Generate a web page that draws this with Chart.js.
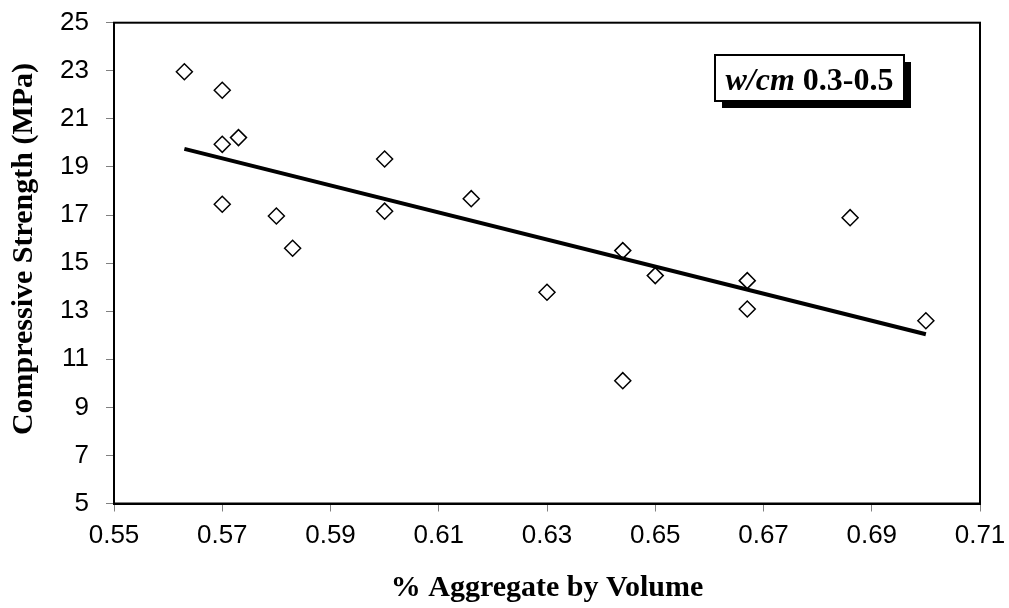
<!DOCTYPE html>
<html>
<head>
<meta charset="utf-8">
<script src="https://cdn.jsdelivr.net/npm/chart.js@4/dist/chart.umd.min.js"></script>
<style>
    html, body { margin: 0; padding: 0; background: #fff; }
    #wrap { width: 1009px; height: 608px; }
</style>
</head>
<body>
<div id="wrap"><canvas id="strengthChart" width="1009" height="608"></canvas></div>
<script>
// aggregate volume fraction vs compressive strength, w/cm 0.3-0.5 mixes
const aggregateVolume = [0.563, 0.570, 0.570, 0.573, 0.570, 0.580, 0.583, 0.600, 0.600,
    0.616, 0.630, 0.644, 0.644, 0.650, 0.667, 0.667, 0.686, 0.700];
const strengthMPa = [22.96, 22.19, 19.94, 20.22, 17.45, 16.96, 15.62, 19.33, 17.16,
    17.68, 13.79, 15.52, 10.11, 14.48, 14.27, 13.09, 16.89, 12.60];

// linear trend line end points
const trendVolume = [0.563, 0.700];
const trendStrength = [19.75, 12.04];

const xTicks = [0.55, 0.57, 0.59, 0.61, 0.63, 0.65, 0.67, 0.69, 0.71];
const yTicks = [5, 7, 9, 11, 13, 15, 17, 19, 21, 23, 25];

const boxLabel = ['w/cm', ' 0.3-0.5'];
const yTitle = 'Compressive Strength (MPa)';

const serif = '"Liberation Serif", "Times New Roman", serif';
const sans = '"Liberation Sans", Arial, sans-serif';

// closes the plot area frame on the top and right
const frameBox = {
    id: 'frameBox',
    afterDatasetsDraw(chart) {
        const { ctx, chartArea: a } = chart;
        ctx.save();
        ctx.strokeStyle = '#000';
        ctx.lineWidth = 2;
        ctx.strokeRect(a.left, a.top, a.right - a.left, a.bottom - a.top);
        ctx.restore();
    }
};

// vertical axis title, sits a little above the plot's middle
const sideTitle = {
    id: 'sideTitle',
    afterDraw(chart) {
        const ctx = chart.ctx;
        ctx.save();
        ctx.translate(24, 249);
        ctx.rotate(-Math.PI / 2);
        ctx.font = 'bold 30px ' + serif;
        ctx.fillStyle = '#000';
        ctx.textAlign = 'center';
        ctx.textBaseline = 'middle';
        ctx.fillText(yTitle, 0, 0);
        ctx.restore();
    }
};

// label box with drop shadow in the upper right
const mixLabel = {
    id: 'mixLabel',
    afterDraw(chart) {
        const ctx = chart.ctx;
        const left = 715, top = 55, w = 189, h = 46;
        ctx.save();
        ctx.fillStyle = '#000';
        ctx.fillRect(left + 7, top + 7, w, h);
        ctx.fillStyle = '#fff';
        ctx.fillRect(left, top, w, h);
        ctx.strokeStyle = '#000';
        ctx.lineWidth = 2;
        ctx.strokeRect(left, top, w, h);

        const italicFont = 'italic bold 32px ' + serif;
        const plainFont = 'bold 32px ' + serif;
        ctx.font = italicFont;
        const w1 = ctx.measureText(boxLabel[0]).width;
        ctx.font = plainFont;
        const w2 = ctx.measureText(boxLabel[1]).width;
        let x = left + (w - w1 - w2) / 2;
        const y = top + 35;
        ctx.fillStyle = '#000';
        ctx.textBaseline = 'alphabetic';
        ctx.font = italicFont;
        ctx.fillText(boxLabel[0], x, y);
        ctx.font = plainFont;
        ctx.fillText(boxLabel[1], x + w1, y);
        ctx.restore();
    }
};

const points = aggregateVolume.map((v, i) => ({ x: v, y: strengthMPa[i] }));
const trend = trendVolume.map((v, i) => ({ x: v, y: trendStrength[i] }));

new Chart(document.getElementById('strengthChart').getContext('2d'), {
    type: 'scatter',
    data: {
        datasets: [{
            type: 'line',
            data: trend,
            borderColor: '#000',
            borderWidth: 4,
            pointRadius: 0,
            fill: false,
            order: 0
        }, {
            data: points,
            pointStyle: 'rectRot',
            pointRadius: 8,
            pointBackgroundColor: '#fff',
            pointBorderColor: '#000',
            pointBorderWidth: 1.5,
            order: 1
        }]
    },
    options: {
        responsive: false,
        animation: false,
        layout: { padding: { top: 22.7, right: 29, left: 0, bottom: 0 } },
        plugins: {
            legend: { display: false },
            tooltip: { enabled: false }
        },
        scales: {
            x: {
                type: 'linear',
                min: 0.55,
                max: 0.71,
                afterBuildTicks: scale => { scale.ticks = xTicks.map(v => ({ value: v })); },
                afterFit: scale => {
                    scale.height = 104.5;
                    scale.paddingLeft = 0;
                    scale.paddingRight = 0;
                },
                border: { color: '#000', width: 2 },
                grid: { drawOnChartArea: false, drawTicks: true, tickLength: 8, color: '#808080' },
                ticks: {
                    color: '#000',
                    padding: 9,
                    maxRotation: 0,
                    font: { family: sans, size: 26 },
                    callback: v => v.toFixed(2)
                },
                title: {
                    display: true,
                    text: '% Aggregate by Volume',
                    color: '#000',
                    padding: { top: 0, bottom: 2 },
                    font: { family: serif, size: 30, weight: 'bold' }
                }
            },
            y: {
                min: 5,
                max: 25,
                afterBuildTicks: scale => { scale.ticks = yTicks.map(v => ({ value: v })); },
                afterFit: scale => {
                    scale.width = 114;
                    scale.paddingTop = 0;
                    scale.paddingBottom = 0;
                },
                border: { color: '#000', width: 2 },
                grid: { drawOnChartArea: false, drawTicks: true, tickLength: 8, color: '#808080' },
                ticks: {
                    color: '#000',
                    padding: 17,
                    font: { family: sans, size: 26 }
                }
            }
        }
    },
    plugins: [frameBox, sideTitle, mixLabel]
});
</script>
</body>
</html>
